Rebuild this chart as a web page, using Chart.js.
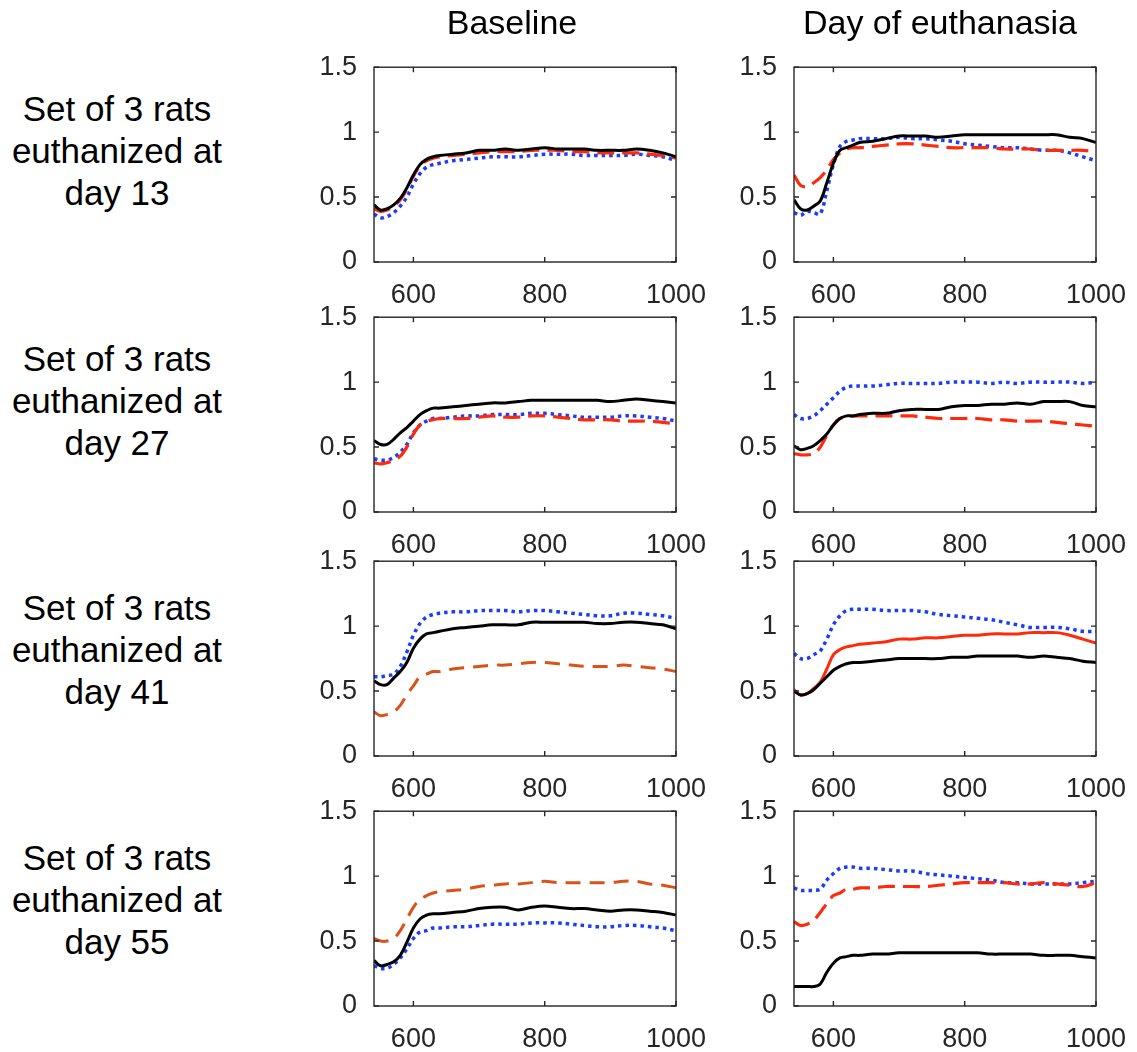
<!DOCTYPE html>
<html>
<head>
<meta charset="utf-8">
<script src="https://cdn.jsdelivr.net/npm/chart.js@4.4.1/dist/chart.umd.min.js"></script>
<style>
  html, body { margin: 0; padding: 0; background: #ffffff; }
  body { width: 1137px; height: 1052px; position: relative; overflow: hidden; font-family: "Liberation Sans", Arial, Helvetica, sans-serif; }
  canvas { position: absolute; }
  .title { position: absolute; font-size: 34px; line-height: 41px; color: #000; white-space: nowrap; text-align: center; }
  .rowlabel { position: absolute; font-size: 35px; line-height: 42px; color: #000; text-align: center; width: 260px; white-space: nowrap; }
</style>
</head>
<body>
<script>
// ---------------- DATA ----------------
const wavelengths = [540,550,560,570,580,590,600,610,620,630,640,660,680,700,720,740,760,780,800,820,840,860,880,900,920,940,960,980,1000];
const xTicks = [600, 800, 1000];
const yTicks = [0, 0.5, 1, 1.5];
const columnTitles = ["Baseline", "Day of euthanasia"];
const rowLabels = [
  ["Set of 3 rats", "euthanized at", "day 13"],
  ["Set of 3 rats", "euthanized at", "day 27"],
  ["Set of 3 rats", "euthanized at", "day 41"],
  ["Set of 3 rats", "euthanized at", "day 55"]
];

// Day 13
const d13BaseBlack = [0.44,0.40,0.41,0.44,0.49,0.57,0.67,0.75,0.79,0.81,0.82,0.83,0.84,0.86,0.86,0.87,0.86,0.87,0.88,0.87,0.87,0.87,0.86,0.86,0.86,0.87,0.86,0.84,0.81];
const d13BaseRed   = [0.41,0.39,0.40,0.43,0.48,0.56,0.66,0.74,0.78,0.80,0.81,0.82,0.83,0.84,0.85,0.85,0.85,0.86,0.86,0.86,0.85,0.85,0.84,0.84,0.84,0.84,0.83,0.82,0.80];
const d13BaseBlue  = [0.37,0.34,0.35,0.38,0.43,0.50,0.60,0.68,0.73,0.75,0.76,0.78,0.79,0.80,0.81,0.81,0.81,0.82,0.83,0.83,0.83,0.82,0.82,0.82,0.82,0.83,0.82,0.81,0.78];
const d13EuthBlack = [0.48,0.41,0.40,0.43,0.47,0.61,0.76,0.86,0.88,0.90,0.92,0.93,0.95,0.97,0.97,0.97,0.96,0.97,0.98,0.98,0.98,0.98,0.98,0.98,0.98,0.98,0.96,0.95,0.92];
const d13EuthRed   = [0.67,0.59,0.58,0.61,0.65,0.71,0.79,0.84,0.87,0.88,0.88,0.89,0.90,0.91,0.91,0.90,0.89,0.88,0.88,0.88,0.88,0.87,0.87,0.87,0.86,0.86,0.86,0.86,0.85];
const d13EuthBlue  = [0.38,0.36,0.39,0.38,0.37,0.55,0.75,0.89,0.93,0.94,0.95,0.95,0.95,0.96,0.95,0.95,0.94,0.93,0.91,0.90,0.89,0.88,0.88,0.87,0.86,0.86,0.84,0.81,0.78];

// Day 27
const d27BaseBlack = [0.55,0.52,0.52,0.56,0.61,0.65,0.70,0.75,0.78,0.80,0.80,0.81,0.82,0.83,0.84,0.84,0.85,0.86,0.86,0.86,0.86,0.86,0.86,0.85,0.86,0.87,0.86,0.85,0.84];
const d27BaseRed   = [0.38,0.37,0.38,0.40,0.43,0.50,0.60,0.67,0.70,0.71,0.72,0.72,0.72,0.73,0.74,0.73,0.73,0.74,0.74,0.73,0.72,0.71,0.71,0.71,0.70,0.70,0.70,0.69,0.68];
const d27BaseBlue  = [0.41,0.40,0.40,0.42,0.46,0.52,0.61,0.67,0.70,0.72,0.72,0.73,0.74,0.74,0.75,0.75,0.75,0.76,0.76,0.75,0.74,0.73,0.73,0.73,0.74,0.74,0.73,0.72,0.70];
const d27EuthBlack = [0.51,0.48,0.49,0.51,0.55,0.60,0.67,0.72,0.74,0.74,0.75,0.76,0.76,0.78,0.79,0.79,0.79,0.81,0.82,0.82,0.83,0.83,0.84,0.83,0.85,0.85,0.85,0.82,0.81];
const d27EuthRed   = [0.45,0.44,0.44,0.45,0.50,0.59,0.67,0.72,0.73,0.74,0.74,0.74,0.74,0.74,0.74,0.73,0.72,0.72,0.72,0.72,0.71,0.71,0.70,0.70,0.70,0.69,0.68,0.67,0.66];
const d27EuthBlue  = [0.75,0.72,0.72,0.74,0.78,0.83,0.88,0.93,0.96,0.97,0.97,0.97,0.98,0.99,0.99,0.99,0.99,1.00,1.00,1.00,0.99,1.00,0.99,1.00,1.00,1.00,1.00,0.99,1.00];

// Day 41
const d41BaseBlack = [0.58,0.55,0.55,0.60,0.65,0.72,0.83,0.90,0.94,0.95,0.96,0.98,0.99,1.00,1.01,1.01,1.01,1.03,1.03,1.03,1.03,1.03,1.02,1.02,1.03,1.03,1.02,1.01,0.98];
const d41BaseRed   = [0.34,0.31,0.32,0.34,0.39,0.47,0.54,0.61,0.63,0.65,0.65,0.67,0.68,0.69,0.70,0.70,0.71,0.72,0.72,0.71,0.70,0.69,0.69,0.69,0.70,0.69,0.68,0.67,0.65];
const d41BaseBlue  = [0.61,0.61,0.62,0.63,0.69,0.80,0.93,1.02,1.07,1.09,1.10,1.11,1.11,1.12,1.12,1.12,1.11,1.12,1.12,1.11,1.10,1.09,1.08,1.08,1.10,1.10,1.09,1.08,1.06];
const d41EuthBlack = [0.50,0.47,0.48,0.51,0.56,0.61,0.66,0.69,0.71,0.72,0.72,0.73,0.74,0.75,0.75,0.75,0.75,0.76,0.76,0.77,0.77,0.77,0.77,0.76,0.77,0.76,0.75,0.73,0.72];
const d41EuthRed   = [0.51,0.47,0.48,0.52,0.57,0.67,0.78,0.82,0.84,0.85,0.86,0.87,0.88,0.90,0.90,0.91,0.91,0.92,0.93,0.93,0.94,0.94,0.94,0.95,0.95,0.95,0.93,0.90,0.87];
const d41EuthBlue  = [0.79,0.75,0.75,0.78,0.81,0.90,1.01,1.08,1.12,1.13,1.13,1.13,1.12,1.12,1.12,1.11,1.09,1.08,1.07,1.06,1.05,1.03,1.01,0.99,0.99,0.99,0.98,0.96,0.96];

// Day 55
const d55BaseBlack = [0.35,0.31,0.32,0.34,0.39,0.49,0.60,0.67,0.70,0.71,0.71,0.72,0.73,0.75,0.76,0.76,0.74,0.76,0.77,0.76,0.75,0.75,0.74,0.73,0.74,0.74,0.73,0.72,0.70];
const d55BaseRed   = [0.52,0.50,0.50,0.52,0.58,0.67,0.76,0.82,0.85,0.87,0.88,0.89,0.90,0.92,0.93,0.94,0.94,0.95,0.96,0.95,0.95,0.95,0.95,0.95,0.96,0.96,0.94,0.93,0.91];
const d55BaseBlue  = [0.31,0.29,0.29,0.32,0.37,0.44,0.52,0.57,0.58,0.60,0.60,0.61,0.61,0.62,0.63,0.63,0.63,0.64,0.64,0.64,0.63,0.62,0.61,0.61,0.62,0.62,0.61,0.60,0.58];
const d55EuthBlack = [0.15,0.15,0.15,0.15,0.17,0.26,0.33,0.37,0.38,0.39,0.39,0.40,0.40,0.41,0.41,0.41,0.41,0.41,0.41,0.41,0.40,0.40,0.40,0.40,0.39,0.39,0.39,0.38,0.37];
const d55EuthRed   = [0.65,0.62,0.63,0.66,0.72,0.79,0.85,0.87,0.90,0.90,0.91,0.91,0.92,0.92,0.92,0.92,0.93,0.94,0.95,0.95,0.95,0.95,0.94,0.94,0.95,0.94,0.93,0.92,0.95];
const d55EuthBlue  = [0.91,0.89,0.89,0.89,0.90,0.97,1.02,1.06,1.07,1.07,1.06,1.06,1.05,1.04,1.04,1.02,1.01,1.00,0.99,0.98,0.97,0.95,0.95,0.94,0.94,0.94,0.94,0.95,0.96];

// ---------------- STYLES ----------------
const BLACK = '#000000';
const RED = '#ff2a0c';
const ORANGE = '#d95319';
const BLUE = '#1a3cff';
const styleSolidBlack = { borderColor: BLACK, borderWidth: 3, borderDash: [] };
const styleDashRed = { borderColor: RED, borderWidth: 3.2, borderDash: [17, 8] };
const styleSolidRed = { borderColor: RED, borderWidth: 3, borderDash: [] };
const styleDashOrange = { borderColor: ORANGE, borderWidth: 3, borderDash: [15, 9] };
const styleDotBlue = { borderColor: BLUE, borderWidth: 3.5, borderDash: [3.5, 4] };

const panels = [
  [0, 0, [[d13BaseBlack, styleSolidBlack], [d13BaseRed, styleDashRed], [d13BaseBlue, styleDotBlue]]],
  [0, 1, [[d13EuthBlack, styleSolidBlack], [d13EuthRed, styleDashRed], [d13EuthBlue, styleDotBlue]]],
  [1, 0, [[d27BaseBlack, styleSolidBlack], [d27BaseRed, styleDashRed], [d27BaseBlue, styleDotBlue]]],
  [1, 1, [[d27EuthBlack, styleSolidBlack], [d27EuthRed, styleDashRed], [d27EuthBlue, styleDotBlue]]],
  [2, 0, [[d41BaseBlack, styleSolidBlack], [d41BaseRed, styleDashOrange], [d41BaseBlue, styleDotBlue]]],
  [2, 1, [[d41EuthBlack, styleSolidBlack], [d41EuthRed, styleSolidRed], [d41EuthBlue, styleDotBlue]]],
  [3, 0, [[d55BaseBlack, styleSolidBlack], [d55BaseRed, styleDashOrange], [d55BaseBlue, styleDotBlue]]],
  [3, 1, [[d55EuthBlack, styleSolidBlack], [d55EuthRed, styleDashRed], [d55EuthBlue, styleDotBlue]]]
];

// ---------------- LAYOUT ----------------
const colLeft = [374, 794];
const rowTop = [67, 317, 561, 811];
const plotW = 302, plotH = 195;
const padL = 80, padT = 18, padR = 42, padB = 52;
const AXIS_COLOR = '#262626';
const TICK_FONT = { family: '"Liberation Sans", Arial, Helvetica, sans-serif', size: 27 };

const framePlugin = {
  id: 'matlabFrame',
  afterDatasetsDraw(chart) {
    const { ctx, chartArea: a, scales } = chart;
    const xs = scales.x, ys = scales.y;
    ctx.save();
    ctx.strokeStyle = AXIS_COLOR;
    ctx.lineWidth = 1.4;
    ctx.strokeRect(a.left, a.top, a.right - a.left, a.bottom - a.top);
    const tl = 5;
    ctx.beginPath();
    xTicks.forEach(v => {
      const px = xs.getPixelForValue(v);
      ctx.moveTo(px, a.bottom); ctx.lineTo(px, a.bottom - tl);
      ctx.moveTo(px, a.top); ctx.lineTo(px, a.top + tl);
    });
    yTicks.forEach(v => {
      const py = ys.getPixelForValue(v);
      ctx.moveTo(a.left, py); ctx.lineTo(a.left + tl, py);
      ctx.moveTo(a.right, py); ctx.lineTo(a.right - tl, py);
    });
    ctx.stroke();
    ctx.restore();
  }
};

function makePanel(row, col, series) {
  const c = document.createElement('canvas');
  let w = padL + plotW + padR, h = padT + plotH + padB;
  c.width = w; c.height = h;
  c.style.width = w + 'px'; c.style.height = h + 'px';
  document.body.appendChild(c);
  const chart = new Chart(c.getContext('2d'), {
    type: 'line',
    data: {
      datasets: series.map(([vals, st]) => ({
        data: wavelengths.map((x, i) => ({ x: x, y: vals[i] })),
        borderColor: st.borderColor,
        borderWidth: st.borderWidth,
        borderDash: st.borderDash,
        borderCapStyle: 'butt',
        pointRadius: 0,
        fill: false,
        tension: 0.35
      }))
    },
    options: {
      responsive: false,
      maintainAspectRatio: false,
      animation: false,
      devicePixelRatio: 1,
      layout: { padding: { top: padT, right: padR, left: 0, bottom: 0 } },
      plugins: { legend: { display: false }, tooltip: { enabled: false } },
      scales: {
        x: {
          type: 'linear', min: 540, max: 1000,
          afterBuildTicks: s => { s.ticks = xTicks.map(v => ({ value: v })); },
          afterFit: s => { s.height = padB; },
          grid: { display: false }, border: { display: false },
          ticks: { color: AXIS_COLOR, font: TICK_FONT, padding: 9, maxRotation: 0, autoSkip: false,
                   callback: v => String(v) }
        },
        y: {
          type: 'linear', min: 0, max: 1.5,
          afterBuildTicks: s => { s.ticks = yTicks.map(v => ({ value: v })); },
          afterFit: s => { s.width = padL; },
          grid: { display: false }, border: { display: false },
          ticks: { color: AXIS_COLOR, font: TICK_FONT, padding: 9, callback: v => String(v) }
        }
      }
    },
    plugins: [framePlugin]
  });
  for (let k = 0; k < 3; k++) {
    const a = chart.chartArea;
    const dw = plotW - (a.right - a.left), dh = plotH - (a.bottom - a.top);
    if (Math.abs(dw) < 0.5 && Math.abs(dh) < 0.5) break;
    w += dw; h += dh;
    chart.resize(Math.round(w), Math.round(h));
  }
  const a = chart.chartArea;
  c.style.left = (colLeft[col] - a.left) + 'px';
  c.style.top = (rowTop[row] - a.top) + 'px';
}

panels.forEach(([r, c, s]) => makePanel(r, c, s));

const titleCenters = [512, 940];
columnTitles.forEach((t, i) => {
  const d = document.createElement('div');
  d.className = 'title';
  d.textContent = t;
  d.style.left = (titleCenters[i] - 200) + 'px';
  d.style.width = '400px';
  d.style.top = '2px';
  document.body.appendChild(d);
});
const rowMidBaselines = [163, 413, 662, 912];
rowLabels.forEach((lines, i) => {
  const d = document.createElement('div');
  d.className = 'rowlabel';
  d.innerHTML = lines.map(l => '<div>' + l + '</div>').join('');
  d.style.left = (117 - 130) + 'px';
  d.style.top = (rowMidBaselines[i] - 42 - 33) + 'px';
  document.body.appendChild(d);
});
</script>
</body>
</html>
